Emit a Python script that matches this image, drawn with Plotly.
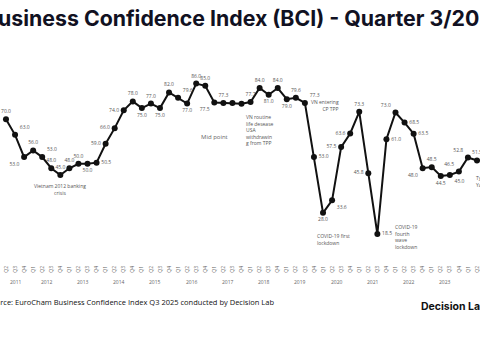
import plotly.graph_objects as go

# Quarterly BCI, starting 2011 Q2 (visible part of the chart)
quarters = (["Q2", "Q3", "Q4"] + ["Q1", "Q2", "Q3", "Q4"] * 12 + ["Q1", "Q2"])
bci = [70.0, 63.0, 53.0, 56.0, 53.0, 48.0, 45.0, 48.0, 50.0, 50.0,
       50.5, 59.0, 66.0, 74.0, 78.0, 75.0, 77.0, 75.0, 82.0, 79.6,
       77.0, 86.0, 85.0, 77.5, 77.3, 77.3, 76.9, 77.7, 84.0, 81.0,
       84.0, 79.0, 79.6, 77.3, 53.0, 28.0, 33.6, 57.5, 63.6, 73.3,
       45.8, 18.5, 61.0, 73.0, 68.5, 63.5, 48.0, 48.5, 44.5, 45.0,
       46.5, 52.8, 51.5]
label_pos = ["top center", "top right", "bottom left", "top center", "top right",
             "top center", "top center", "top center", "top center", "bottom center",
             "middle right", "middle left", "middle left", "middle left", "top center",
             "bottom center", "top center", "bottom center", "top center", "top right",
             "bottom center", "top center", "top center", "bottom left", "top center",
             "top center", "bottom right", "top center", "top center", "bottom center",
             "top center", "bottom center", "top center", "top right", "middle right",
             "bottom center", "bottom right", "middle left", "middle left", "top center",
             "middle left", "middle right", "middle right", "top left", "middle right",
             "middle right", "bottom left", "top center", "bottom center", "bottom right",
             "top left", "top left", "top center"]
hide_label = {25, 26}
years = ["2011", "2012", "2013", "2014", "2015", "2016", "2017", "2018",
         "2019", "2020", "2021", "2022", "2023", "2024"]
year_centers = [1.0] + [4.5 + 4 * k for k in range(13)]

idx = list(range(len(bci)))
labels = ["" if i in hide_label else f"{v:.1f}" for i, v in zip(idx, bci)]

fig = go.Figure()
fig.add_trace(go.Scatter(
    x=idx, y=bci, mode="lines+markers+text",
    line=dict(color="#111111", width=2),
    marker=dict(color="#111111", size=6),
    text=labels, textposition=label_pos,
    textfont=dict(size=5, color="#555555", family="Open Sans"),
    cliponaxis=False, showlegend=False, hoverinfo="skip",
))

ann = []
for y, c in zip(years, year_centers):
    ann.append(dict(x=c, y=-3.0, xref="x", yref="y", text=y, showarrow=False,
                    font=dict(size=5, color="#666666", family="Open Sans")))

notes = [
    (6, 38.5, "Vietnam 2012 banking<br>crisis", "center"),
    (26.3, 65.0, "VN routine<br>life desease<br>USA<br>withdrawin<br>g from TPP", "left"),
    (37.0, 76.0, "VN entering<br>CP TPP", "right"),
    (34.1, 16.0, "COVID-19 first<br>lockdown", "left"),
    (42.7, 17.0, "COVID-19<br>fourth<br>wave<br>lockdown", "left"),
    (51.7, 42.0, "Typhoon<br>Yagi", "left"),
]
for x, y, t, a in notes:
    ann.append(dict(x=x, y=y, xref="x", yref="y", text=t, showarrow=False,
                    xanchor=a, align=a,
                    font=dict(size=5, color="#555555", family="Open Sans")))
ann.append(dict(x=23.0, y=62.0, xref="x", yref="y", text="Mid point", showarrow=False,
                font=dict(size=6, color="#666666", family="Open Sans")))

ann.append(dict(x=-18 / 480, y=1 - 18 / 360, xref="paper", yref="paper",
                text="<b>Business Confidence Index (BCI) - Quarter 3/2025</b>",
                showarrow=False, xanchor="left", yanchor="middle",
                font=dict(size=21.3, color="#111122", family="Inter")))
ann.append(dict(x=-15 / 480, y=1 - 302 / 360, xref="paper", yref="paper",
                text="Source: EuroCham Business Confidence Index Q3 2025 conducted by Decision Lab",
                showarrow=False, xanchor="left", yanchor="middle",
                font=dict(size=7.5, color="#111111", family="Open Sans")))
ann.append(dict(x=419 / 480, y=1 - 306 / 360, xref="paper", yref="paper",
                text="<b>Decision Lab</b>", showarrow=False, xanchor="left", yanchor="middle",
                font=dict(size=10.5, color="#111111", family="Inter")))

fig.update_layout(
    width=480, height=360, margin=dict(l=0, r=0, t=0, b=0),
    paper_bgcolor="white", plot_bgcolor="white",
    annotations=ann,
    xaxis=dict(range=[-0.66, 52.33], tickmode="array", tickvals=idx, ticktext=quarters,
               tickangle=-90, tickfont=dict(size=5, color="#666666", family="Open Sans"),
               showgrid=False, zeroline=False, showline=False, ticks="",
               anchor="free", position=1 - 264 / 360),
    yaxis=dict(range=[-38.05, 123.5], visible=False),
)
fig.write_html("out.html", config={"displayModeBar": False},
               post_script="document.body.style.margin='0';")
